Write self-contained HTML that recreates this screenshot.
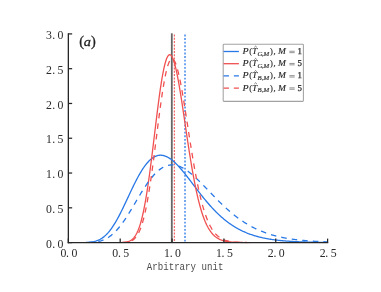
<!DOCTYPE html>
<html><head><meta charset="utf-8"><title>plot</title>
<style>
html,body{margin:0;padding:0;background:#fff;}
body{width:381px;height:292px;position:relative;overflow:hidden;font-family:"Liberation Serif",serif;}
</style></head><body>
<svg width="381" height="292" viewBox="0 0 381 292" style="position:absolute;left:0;top:0;will-change:transform;font-family:'Liberation Serif',serif">
<line x1="171.80" y1="33.30" x2="171.80" y2="242.60" stroke="#666" stroke-width="1.8"/>
<line x1="174.41" y1="34.50" x2="174.41" y2="242.60" stroke="#f36a6a" stroke-width="1.25" stroke-dasharray="2.0 1.3"/>
<line x1="185.01" y1="34.50" x2="185.01" y2="242.60" stroke="#5a98ee" stroke-width="1.7" stroke-dasharray="1.9 1.7"/>
<clipPath id="c"><rect x="68.35" y="31.90" width="259.85" height="211.30"/></clipPath>
<g clip-path="url(#c)" fill="none" stroke-linejoin="round">
<path d="M85.89,242.50 L86.54,242.48 L87.19,242.45 L87.84,242.41 L88.49,242.36 L89.14,242.31 L89.79,242.25 L90.44,242.18 L91.09,242.10 L91.74,242.01 L92.39,241.91 L93.04,241.79 L93.69,241.66 L94.34,241.51 L94.99,241.34 L95.64,241.16 L96.29,240.96 L96.94,240.73 L97.59,240.49 L98.24,240.22 L98.89,239.93 L99.54,239.61 L100.19,239.27 L100.84,238.90 L101.49,238.50 L102.14,238.08 L102.79,237.62 L103.44,237.14 L104.09,236.62 L104.74,236.07 L105.39,235.49 L106.04,234.88 L106.69,234.23 L107.33,233.55 L107.98,232.84 L108.63,232.09 L109.28,231.31 L109.93,230.50 L110.58,229.65 L111.23,228.77 L111.88,227.86 L112.53,226.91 L113.18,225.94 L113.83,224.93 L114.48,223.89 L115.13,222.82 L115.78,221.73 L116.43,220.60 L117.08,219.45 L117.73,218.28 L118.38,217.07 L119.03,215.85 L119.68,214.60 L120.33,213.34 L120.98,212.05 L121.63,210.75 L122.28,209.43 L122.93,208.10 L123.58,206.75 L124.23,205.39 L124.88,204.03 L125.53,202.65 L126.18,201.27 L126.83,199.88 L127.48,198.49 L128.13,197.10 L128.78,195.71 L129.43,194.32 L130.08,192.94 L130.73,191.56 L131.38,190.19 L132.03,188.83 L132.68,187.48 L133.32,186.14 L133.97,184.81 L134.62,183.50 L135.27,182.21 L135.92,180.93 L136.57,179.67 L137.22,178.44 L137.87,177.23 L138.52,176.04 L139.17,174.87 L139.82,173.73 L140.47,172.62 L141.12,171.54 L141.77,170.49 L142.42,169.46 L143.07,168.47 L143.72,167.51 L144.37,166.58 L145.02,165.69 L145.67,164.83 L146.32,164.00 L146.97,163.21 L147.62,162.46 L148.27,161.74 L148.92,161.06 L149.57,160.41 L150.22,159.81 L150.87,159.24 L151.52,158.71 L152.17,158.21 L152.82,157.76 L153.47,157.34 L154.12,156.96 L154.77,156.62 L155.42,156.31 L156.07,156.05 L156.72,155.82 L157.37,155.62 L158.02,155.47 L158.67,155.35 L159.31,155.27 L159.96,155.22 L160.61,155.21 L161.26,155.23 L161.91,155.28 L162.56,155.37 L163.21,155.50 L163.86,155.65 L164.51,155.84 L165.16,156.06 L165.81,156.30 L166.46,156.58 L167.11,156.89 L167.76,157.23 L168.41,157.59 L169.06,157.98 L169.71,158.40 L170.36,158.84 L171.01,159.31 L171.66,159.80 L172.31,160.32 L172.96,160.85 L173.61,161.41 L174.26,161.99 L174.91,162.59 L175.56,163.21 L176.21,163.85 L176.86,164.50 L177.51,165.17 L178.16,165.86 L178.81,166.56 L179.46,167.28 L180.11,168.01 L180.76,168.75 L181.41,169.51 L182.06,170.27 L182.71,171.05 L183.36,171.84 L184.01,172.63 L184.66,173.44 L185.30,174.25 L185.95,175.07 L186.60,175.90 L187.25,176.73 L187.90,177.57 L188.55,178.41 L189.20,179.26 L189.85,180.10 L190.50,180.96 L191.15,181.81 L191.80,182.67 L192.45,183.52 L193.10,184.38 L193.75,185.24 L194.40,186.09 L195.05,186.95 L195.70,187.80 L196.35,188.66 L197.00,189.51 L197.65,190.35 L198.30,191.20 L198.95,192.04 L199.60,192.88 L200.25,193.71 L200.90,194.54 L201.55,195.36 L202.20,196.18 L202.85,196.99 L203.50,197.80 L204.15,198.60 L204.80,199.39 L205.45,200.18 L206.10,200.96 L206.75,201.73 L207.40,202.50 L208.05,203.25 L208.70,204.01 L209.35,204.75 L210.00,205.48 L210.65,206.21 L211.29,206.93 L211.94,207.64 L212.59,208.34 L213.24,209.03 L213.89,209.72 L214.54,210.39 L215.19,211.06 L215.84,211.72 L216.49,212.37 L217.14,213.01 L217.79,213.64 L218.44,214.26 L219.09,214.87 L219.74,215.47 L220.39,216.07 L221.04,216.65 L221.69,217.23 L222.34,217.79 L222.99,218.35 L223.64,218.90 L224.29,219.44 L224.94,219.97 L225.59,220.49 L226.24,221.00 L226.89,221.50 L227.54,221.99 L228.19,222.48 L228.84,222.95 L229.49,223.42 L230.14,223.88 L230.79,224.33 L231.44,224.77 L232.09,225.20 L232.74,225.63 L233.39,226.04 L234.04,226.45 L234.69,226.85 L235.34,227.24 L235.99,227.63 L236.64,228.00 L237.28,228.37 L237.93,228.73 L238.58,229.09 L239.23,229.43 L239.88,229.77 L240.53,230.10 L241.18,230.43 L241.83,230.74 L242.48,231.05 L243.13,231.36 L243.78,231.65 L244.43,231.94 L245.08,232.22 L245.73,232.50 L246.38,232.77 L247.03,233.04 L247.68,233.29 L248.33,233.55 L248.98,233.79 L249.63,234.03 L250.28,234.27 L250.93,234.50 L251.58,234.72 L252.23,234.94 L252.88,235.15 L253.53,235.36 L254.18,235.56 L254.83,235.76 L255.48,235.95 L256.13,236.14 L256.78,236.32 L257.43,236.50 L258.08,236.67 L258.73,236.84 L259.38,237.01 L260.03,237.17 L260.68,237.33 L261.33,237.48 L261.98,237.63 L262.63,237.77 L263.27,237.92 L263.92,238.05 L264.57,238.19 L265.22,238.32 L265.87,238.44 L266.52,238.57 L267.17,238.69 L267.82,238.80 L268.47,238.92 L269.12,239.03 L269.77,239.13 L270.42,239.24 L271.07,239.34 L271.72,239.44 L272.37,239.54 L273.02,239.63 L273.67,239.72 L274.32,239.81 L274.97,239.89 L275.62,239.98 L276.27,240.06 L276.92,240.14 L277.57,240.21 L278.22,240.29 L278.87,240.36 L279.52,240.43 L280.17,240.50 L280.82,240.56 L281.47,240.63 L282.12,240.69 L282.77,240.75 L283.42,240.81 L284.07,240.87 L284.72,240.92 L285.37,240.97 L286.02,241.03 L286.67,241.08 L287.32,241.13 L287.97,241.17 L288.62,241.22 L289.26,241.26 L289.91,241.31 L290.56,241.35 L291.21,241.39 L291.86,241.43 L292.51,241.47 L293.16,241.50 L293.81,241.54 L294.46,241.57 L295.11,241.61 L295.76,241.64 L296.41,241.67 L297.06,241.70 L297.71,241.73 L298.36,241.76 L299.01,241.79 L299.66,241.82 L300.31,241.84 L300.96,241.87 L301.61,241.89 L302.26,241.92 L302.91,241.94 L303.56,241.96 L304.21,241.98 L304.86,242.00 L305.51,242.02 L306.16,242.04 L306.81,242.06 L307.46,242.08 L308.11,242.10 L308.76,242.12 L309.41,242.13 L310.06,242.15 L310.71,242.16 L311.36,242.18 L312.01,242.19 L312.66,242.21 L313.31,242.22 L313.96,242.23 L314.61,242.25 L315.25,242.26 L315.90,242.27 L316.55,242.28 L317.20,242.29 L317.85,242.30 L318.50,242.31 L319.15,242.32 L319.80,242.33 L320.45,242.34 L321.10,242.35 L321.75,242.36 L322.40,242.37 L323.05,242.38 L323.70,242.39 L324.35,242.39 L325.00,242.40 L325.65,242.41 L326.30,242.41 L326.95,242.42 L327.60,242.43" stroke="#2878e6" stroke-width="1.3"/>
<path d="M121.63,242.49 L122.28,242.46 L122.93,242.42 L123.58,242.37 L124.23,242.31 L124.88,242.23 L125.53,242.14 L126.18,242.03 L126.83,241.90 L127.48,241.74 L128.13,241.55 L128.78,241.33 L129.43,241.07 L130.08,240.76 L130.73,240.39 L131.38,239.98 L132.03,239.49 L132.68,238.93 L133.32,238.30 L133.97,237.57 L134.62,236.75 L135.27,235.82 L135.92,234.78 L136.57,233.61 L137.22,232.31 L137.87,230.86 L138.52,229.27 L139.17,227.52 L139.82,225.60 L140.47,223.50 L141.12,221.22 L141.77,218.76 L142.42,216.10 L143.07,213.24 L143.72,210.19 L144.37,206.93 L145.02,203.47 L145.67,199.82 L146.32,195.96 L146.97,191.92 L147.62,187.69 L148.27,183.28 L148.92,178.70 L149.57,173.97 L150.22,169.09 L150.87,164.09 L151.52,158.97 L152.17,153.76 L152.82,148.47 L153.47,143.12 L154.12,137.75 L154.77,132.36 L155.42,126.98 L156.07,121.64 L156.72,116.35 L157.37,111.15 L158.02,106.05 L158.67,101.08 L159.31,96.26 L159.96,91.63 L160.61,87.18 L161.26,82.96 L161.91,78.97 L162.56,75.24 L163.21,71.78 L163.86,68.61 L164.51,65.74 L165.16,63.19 L165.81,60.96 L166.46,59.06 L167.11,57.50 L167.76,56.28 L168.41,55.40 L169.06,54.87 L169.71,54.68 L170.36,54.83 L171.01,55.32 L171.66,56.13 L172.31,57.26 L172.96,58.70 L173.61,60.44 L174.26,62.47 L174.91,64.77 L175.56,67.32 L176.21,70.12 L176.86,73.15 L177.51,76.38 L178.16,79.81 L178.81,83.41 L179.46,87.17 L180.11,91.06 L180.76,95.08 L181.41,99.21 L182.06,103.42 L182.71,107.70 L183.36,112.03 L184.01,116.41 L184.66,120.80 L185.30,125.21 L185.95,129.60 L186.60,133.98 L187.25,138.33 L187.90,142.64 L188.55,146.89 L189.20,151.08 L189.85,155.20 L190.50,159.23 L191.15,163.18 L191.80,167.04 L192.45,170.79 L193.10,174.45 L193.75,177.99 L194.40,181.42 L195.05,184.74 L195.70,187.94 L196.35,191.02 L197.00,193.98 L197.65,196.83 L198.30,199.55 L198.95,202.16 L199.60,204.65 L200.25,207.03 L200.90,209.29 L201.55,211.44 L202.20,213.49 L202.85,215.43 L203.50,217.26 L204.15,219.00 L204.80,220.63 L205.45,222.18 L206.10,223.63 L206.75,225.00 L207.40,226.29 L208.05,227.49 L208.70,228.62 L209.35,229.68 L210.00,230.67 L210.65,231.59 L211.29,232.46 L211.94,233.26 L212.59,234.01 L213.24,234.70 L213.89,235.34 L214.54,235.94 L215.19,236.50 L215.84,237.01 L216.49,237.48 L217.14,237.92 L217.79,238.32 L218.44,238.70 L219.09,239.04 L219.74,239.35 L220.39,239.64 L221.04,239.91 L221.69,240.15 L222.34,240.38 L222.99,240.58 L223.64,240.77 L224.29,240.94 L224.94,241.10 L225.59,241.24 L226.24,241.37 L226.89,241.49 L227.54,241.60 L228.19,241.69 L228.84,241.78 L229.49,241.86 L230.14,241.94 L230.79,242.00 L231.44,242.06 L232.09,242.12 L232.74,242.17 L233.39,242.21 L234.04,242.25 L234.69,242.29 L235.34,242.32 L235.99,242.35 L236.64,242.38 L237.28,242.40 L237.93,242.42 L238.58,242.44 L239.23,242.46 L239.88,242.47 L240.53,242.49 L241.18,242.50 L241.83,242.51 L242.48,242.52 L243.13,242.53 L243.78,242.54 L244.43,242.54 L245.08,242.55 L245.73,242.56 L246.38,242.56 L247.03,242.57 L247.68,242.57 L248.33,242.57" stroke="#f05050" stroke-width="1.3"/>
<path d="M88.49,242.50 L89.14,242.48 L89.79,242.45 L90.44,242.42 L91.09,242.39 L91.74,242.34 L92.39,242.30 L93.04,242.24 L93.69,242.18 L94.34,242.11 L94.99,242.04 L95.64,241.95 L96.29,241.86 L96.94,241.75 L97.59,241.63 L98.24,241.50 L98.89,241.36 L99.54,241.20 L100.19,241.03 L100.84,240.85 L101.49,240.65 L102.14,240.43 L102.79,240.20 L103.44,239.95 L104.09,239.68 L104.74,239.39 L105.39,239.08 L106.04,238.75 L106.69,238.40 L107.33,238.03 L107.98,237.64 L108.63,237.23 L109.28,236.80 L109.93,236.34 L110.58,235.86 L111.23,235.36 L111.88,234.83 L112.53,234.28 L113.18,233.70 L113.83,233.11 L114.48,232.49 L115.13,231.84 L115.78,231.17 L116.43,230.48 L117.08,229.77 L117.73,229.03 L118.38,228.27 L119.03,227.49 L119.68,226.69 L120.33,225.87 L120.98,225.02 L121.63,224.16 L122.28,223.27 L122.93,222.37 L123.58,221.45 L124.23,220.51 L124.88,219.55 L125.53,218.58 L126.18,217.59 L126.83,216.59 L127.48,215.57 L128.13,214.55 L128.78,213.51 L129.43,212.46 L130.08,211.40 L130.73,210.33 L131.38,209.26 L132.03,208.18 L132.68,207.09 L133.32,206.00 L133.97,204.90 L134.62,203.80 L135.27,202.71 L135.92,201.61 L136.57,200.51 L137.22,199.41 L137.87,198.32 L138.52,197.23 L139.17,196.15 L139.82,195.07 L140.47,194.00 L141.12,192.94 L141.77,191.88 L142.42,190.84 L143.07,189.81 L143.72,188.79 L144.37,187.78 L145.02,186.79 L145.67,185.81 L146.32,184.85 L146.97,183.90 L147.62,182.97 L148.27,182.06 L148.92,181.16 L149.57,180.29 L150.22,179.43 L150.87,178.60 L151.52,177.79 L152.17,177.00 L152.82,176.23 L153.47,175.48 L154.12,174.76 L154.77,174.06 L155.42,173.39 L156.07,172.73 L156.72,172.11 L157.37,171.51 L158.02,170.93 L158.67,170.38 L159.31,169.86 L159.96,169.36 L160.61,168.89 L161.26,168.45 L161.91,168.03 L162.56,167.64 L163.21,167.27 L163.86,166.93 L164.51,166.62 L165.16,166.34 L165.81,166.08 L166.46,165.85 L167.11,165.64 L167.76,165.46 L168.41,165.31 L169.06,165.18 L169.71,165.08 L170.36,165.00 L171.01,164.95 L171.66,164.92 L172.31,164.92 L172.96,164.94 L173.61,164.98 L174.26,165.05 L174.91,165.15 L175.56,165.26 L176.21,165.40 L176.86,165.56 L177.51,165.74 L178.16,165.95 L178.81,166.17 L179.46,166.41 L180.11,166.68 L180.76,166.96 L181.41,167.27 L182.06,167.59 L182.71,167.93 L183.36,168.29 L184.01,168.66 L184.66,169.05 L185.30,169.46 L185.95,169.88 L186.60,170.32 L187.25,170.77 L187.90,171.24 L188.55,171.72 L189.20,172.22 L189.85,172.72 L190.50,173.24 L191.15,173.77 L191.80,174.32 L192.45,174.87 L193.10,175.43 L193.75,176.01 L194.40,176.59 L195.05,177.18 L195.70,177.78 L196.35,178.39 L197.00,179.00 L197.65,179.62 L198.30,180.25 L198.95,180.88 L199.60,181.52 L200.25,182.17 L200.90,182.82 L201.55,183.47 L202.20,184.13 L202.85,184.79 L203.50,185.46 L204.15,186.13 L204.80,186.80 L205.45,187.47 L206.10,188.14 L206.75,188.82 L207.40,189.49 L208.05,190.17 L208.70,190.85 L209.35,191.53 L210.00,192.20 L210.65,192.88 L211.29,193.55 L211.94,194.23 L212.59,194.90 L213.24,195.57 L213.89,196.24 L214.54,196.91 L215.19,197.57 L215.84,198.24 L216.49,198.89 L217.14,199.55 L217.79,200.20 L218.44,200.85 L219.09,201.50 L219.74,202.14 L220.39,202.77 L221.04,203.41 L221.69,204.03 L222.34,204.66 L222.99,205.28 L223.64,205.89 L224.29,206.50 L224.94,207.10 L225.59,207.70 L226.24,208.29 L226.89,208.88 L227.54,209.46 L228.19,210.04 L228.84,210.61 L229.49,211.17 L230.14,211.73 L230.79,212.28 L231.44,212.83 L232.09,213.37 L232.74,213.91 L233.39,214.43 L234.04,214.96 L234.69,215.47 L235.34,215.98 L235.99,216.48 L236.64,216.98 L237.28,217.47 L237.93,217.95 L238.58,218.43 L239.23,218.90 L239.88,219.36 L240.53,219.82 L241.18,220.27 L241.83,220.71 L242.48,221.15 L243.13,221.58 L243.78,222.01 L244.43,222.43 L245.08,222.84 L245.73,223.25 L246.38,223.65 L247.03,224.04 L247.68,224.43 L248.33,224.81 L248.98,225.18 L249.63,225.55 L250.28,225.91 L250.93,226.27 L251.58,226.62 L252.23,226.97 L252.88,227.31 L253.53,227.64 L254.18,227.97 L254.83,228.29 L255.48,228.60 L256.13,228.91 L256.78,229.22 L257.43,229.52 L258.08,229.81 L258.73,230.10 L259.38,230.38 L260.03,230.66 L260.68,230.93 L261.33,231.20 L261.98,231.46 L262.63,231.72 L263.27,231.97 L263.92,232.21 L264.57,232.46 L265.22,232.69 L265.87,232.93 L266.52,233.15 L267.17,233.38 L267.82,233.60 L268.47,233.81 L269.12,234.02 L269.77,234.23 L270.42,234.43 L271.07,234.63 L271.72,234.82 L272.37,235.01 L273.02,235.19 L273.67,235.37 L274.32,235.55 L274.97,235.73 L275.62,235.90 L276.27,236.06 L276.92,236.22 L277.57,236.38 L278.22,236.54 L278.87,236.69 L279.52,236.84 L280.17,236.98 L280.82,237.13 L281.47,237.26 L282.12,237.40 L282.77,237.53 L283.42,237.66 L284.07,237.79 L284.72,237.91 L285.37,238.03 L286.02,238.15 L286.67,238.27 L287.32,238.38 L287.97,238.49 L288.62,238.60 L289.26,238.70 L289.91,238.81 L290.56,238.91 L291.21,239.00 L291.86,239.10 L292.51,239.19 L293.16,239.28 L293.81,239.37 L294.46,239.46 L295.11,239.54 L295.76,239.62 L296.41,239.70 L297.06,239.78 L297.71,239.86 L298.36,239.93 L299.01,240.00 L299.66,240.08 L300.31,240.14 L300.96,240.21 L301.61,240.28 L302.26,240.34 L302.91,240.40 L303.56,240.46 L304.21,240.52 L304.86,240.58 L305.51,240.64 L306.16,240.69 L306.81,240.74 L307.46,240.80 L308.11,240.85 L308.76,240.90 L309.41,240.94 L310.06,240.99 L310.71,241.04 L311.36,241.08 L312.01,241.12 L312.66,241.17 L313.31,241.21 L313.96,241.25 L314.61,241.28 L315.25,241.32 L315.90,241.36 L316.55,241.39 L317.20,241.43 L317.85,241.46 L318.50,241.50 L319.15,241.53 L319.80,241.56 L320.45,241.59 L321.10,241.62 L321.75,241.65 L322.40,241.68 L323.05,241.70 L323.70,241.73 L324.35,241.75 L325.00,241.78 L325.65,241.80 L326.30,241.83 L326.95,241.85 L327.60,241.87" stroke="#2878e6" stroke-width="1.3" stroke-dasharray="5.5 5.1" stroke-dashoffset="0.74"/>
<path d="M122.93,242.49 L123.58,242.46 L124.23,242.42 L124.88,242.37 L125.53,242.31 L126.18,242.24 L126.83,242.15 L127.48,242.05 L128.13,241.92 L128.78,241.77 L129.43,241.59 L130.08,241.38 L130.73,241.14 L131.38,240.85 L132.03,240.51 L132.68,240.12 L133.32,239.67 L133.97,239.16 L134.62,238.57 L135.27,237.90 L135.92,237.14 L136.57,236.29 L137.22,235.33 L137.87,234.25 L138.52,233.06 L139.17,231.74 L139.82,230.28 L140.47,228.67 L141.12,226.91 L141.77,224.99 L142.42,222.91 L143.07,220.65 L143.72,218.21 L144.37,215.59 L145.02,212.79 L145.67,209.80 L146.32,206.62 L146.97,203.25 L147.62,199.70 L148.27,195.96 L148.92,192.05 L149.57,187.96 L150.22,183.71 L150.87,179.31 L151.52,174.76 L152.17,170.08 L152.82,165.28 L153.47,160.38 L154.12,155.39 L154.77,150.33 L155.42,145.22 L156.07,140.08 L156.72,134.92 L157.37,129.78 L158.02,124.67 L158.67,119.61 L159.31,114.63 L159.96,109.74 L160.61,104.97 L161.26,100.34 L161.91,95.87 L162.56,91.58 L163.21,87.49 L163.86,83.62 L164.51,79.99 L165.16,76.60 L165.81,73.48 L166.46,70.64 L167.11,68.08 L167.76,65.83 L168.41,63.88 L169.06,62.25 L169.71,60.93 L170.36,59.94 L171.01,59.26 L171.66,58.91 L172.31,58.88 L172.96,59.16 L173.61,59.76 L174.26,60.66 L174.91,61.85 L175.56,63.33 L176.21,65.08 L176.86,67.10 L177.51,69.36 L178.16,71.87 L178.81,74.59 L179.46,77.53 L180.11,80.66 L180.76,83.96 L181.41,87.43 L182.06,91.04 L182.71,94.77 L183.36,98.63 L184.01,102.57 L184.66,106.60 L185.30,110.70 L185.95,114.84 L186.60,119.02 L187.25,123.22 L187.90,127.43 L188.55,131.64 L189.20,135.83 L189.85,139.99 L190.50,144.11 L191.15,148.19 L191.80,152.21 L192.45,156.16 L193.10,160.04 L193.75,163.84 L194.40,167.56 L195.05,171.18 L195.70,174.70 L196.35,178.13 L197.00,181.45 L197.65,184.67 L198.30,187.77 L198.95,190.77 L199.60,193.66 L200.25,196.44 L200.90,199.10 L201.55,201.66 L202.20,204.10 L202.85,206.44 L203.50,208.67 L204.15,210.79 L204.80,212.81 L205.45,214.74 L206.10,216.56 L206.75,218.29 L207.40,219.92 L208.05,221.47 L208.70,222.92 L209.35,224.30 L210.00,225.59 L210.65,226.81 L211.29,227.96 L211.94,229.03 L212.59,230.04 L213.24,230.98 L213.89,231.86 L214.54,232.68 L215.19,233.45 L215.84,234.17 L216.49,234.83 L217.14,235.45 L217.79,236.03 L218.44,236.56 L219.09,237.06 L219.74,237.52 L220.39,237.94 L221.04,238.33 L221.69,238.70 L222.34,239.03 L222.99,239.34 L223.64,239.62 L224.29,239.89 L224.94,240.13 L225.59,240.35 L226.24,240.55 L226.89,240.73 L227.54,240.91 L228.19,241.06 L228.84,241.20 L229.49,241.33 L230.14,241.45 L230.79,241.56 L231.44,241.66 L232.09,241.75 L232.74,241.83 L233.39,241.91 L234.04,241.97 L234.69,242.04 L235.34,242.09 L235.99,242.14 L236.64,242.19 L237.28,242.23 L237.93,242.27 L238.58,242.30 L239.23,242.33 L239.88,242.36 L240.53,242.38 L241.18,242.41 L241.83,242.43 L242.48,242.45 L243.13,242.46 L243.78,242.48 L244.43,242.49 L245.08,242.50 L245.73,242.51 L246.38,242.52 L247.03,242.53 L247.68,242.54 L248.33,242.54 L248.98,242.55 L249.63,242.56 L250.28,242.56 L250.93,242.57 L251.58,242.57 L252.23,242.57" stroke="#f05050" stroke-width="1.3" stroke-dasharray="5.5 5.1" stroke-dashoffset="1.58"/>
</g>
<g stroke="#262626" stroke-width="1.3" fill="none" stroke-linecap="square">
<line x1="68.35" y1="33.90" x2="68.35" y2="242.60"/>
<line x1="68.35" y1="242.60" x2="327.60" y2="242.60"/>
</g>
<g stroke="#262626" stroke-width="1.25" fill="none">
<line x1="68.35" y1="242.60" x2="68.35" y2="238.60"/>
<line x1="120.20" y1="242.60" x2="120.20" y2="238.60"/>
<line x1="172.05" y1="242.60" x2="172.05" y2="238.60"/>
<line x1="223.90" y1="242.60" x2="223.90" y2="238.60"/>
<line x1="275.75" y1="242.60" x2="275.75" y2="238.60"/>
<line x1="327.60" y1="242.60" x2="327.60" y2="238.60"/>
<line x1="68.35" y1="242.60" x2="72.15" y2="242.60"/>
<line x1="68.35" y1="207.82" x2="72.15" y2="207.82"/>
<line x1="68.35" y1="173.03" x2="72.15" y2="173.03"/>
<line x1="68.35" y1="138.25" x2="72.15" y2="138.25"/>
<line x1="68.35" y1="103.47" x2="72.15" y2="103.47"/>
<line x1="68.35" y1="68.68" x2="72.15" y2="68.68"/>
<line x1="68.35" y1="33.90" x2="72.15" y2="33.90"/>
</g>
<text x="63.35" y="257.40" font-size="11.8" text-anchor="middle" fill="#2b2b2b">0</text>
<text x="67.55" y="257.40" font-size="11.8" text-anchor="middle" fill="#2b2b2b">.</text>
<text x="74.35" y="257.40" font-size="11.8" text-anchor="middle" fill="#2b2b2b">0</text>
<text x="115.20" y="257.40" font-size="11.8" text-anchor="middle" fill="#2b2b2b">0</text>
<text x="119.40" y="257.40" font-size="11.8" text-anchor="middle" fill="#2b2b2b">.</text>
<text x="126.20" y="257.40" font-size="11.8" text-anchor="middle" fill="#2b2b2b">5</text>
<text x="167.05" y="257.40" font-size="11.8" text-anchor="middle" fill="#2b2b2b">1</text>
<text x="171.25" y="257.40" font-size="11.8" text-anchor="middle" fill="#2b2b2b">.</text>
<text x="178.05" y="257.40" font-size="11.8" text-anchor="middle" fill="#2b2b2b">0</text>
<text x="218.90" y="257.40" font-size="11.8" text-anchor="middle" fill="#2b2b2b">1</text>
<text x="223.10" y="257.40" font-size="11.8" text-anchor="middle" fill="#2b2b2b">.</text>
<text x="229.90" y="257.40" font-size="11.8" text-anchor="middle" fill="#2b2b2b">5</text>
<text x="270.75" y="257.40" font-size="11.8" text-anchor="middle" fill="#2b2b2b">2</text>
<text x="274.95" y="257.40" font-size="11.8" text-anchor="middle" fill="#2b2b2b">.</text>
<text x="281.75" y="257.40" font-size="11.8" text-anchor="middle" fill="#2b2b2b">0</text>
<text x="322.60" y="257.40" font-size="11.8" text-anchor="middle" fill="#2b2b2b">2</text>
<text x="326.80" y="257.40" font-size="11.8" text-anchor="middle" fill="#2b2b2b">.</text>
<text x="333.60" y="257.40" font-size="11.8" text-anchor="middle" fill="#2b2b2b">5</text>
<text x="49.00" y="247.70" font-size="11.8" text-anchor="middle" fill="#2b2b2b">0</text>
<text x="53.70" y="247.70" font-size="11.8" text-anchor="middle" fill="#2b2b2b">.</text>
<text x="60.55" y="247.70" font-size="11.8" text-anchor="middle" fill="#2b2b2b">0</text>
<text x="49.00" y="212.92" font-size="11.8" text-anchor="middle" fill="#2b2b2b">0</text>
<text x="53.70" y="212.92" font-size="11.8" text-anchor="middle" fill="#2b2b2b">.</text>
<text x="60.55" y="212.92" font-size="11.8" text-anchor="middle" fill="#2b2b2b">5</text>
<text x="49.00" y="178.13" font-size="11.8" text-anchor="middle" fill="#2b2b2b">1</text>
<text x="53.70" y="178.13" font-size="11.8" text-anchor="middle" fill="#2b2b2b">.</text>
<text x="60.55" y="178.13" font-size="11.8" text-anchor="middle" fill="#2b2b2b">0</text>
<text x="49.00" y="143.35" font-size="11.8" text-anchor="middle" fill="#2b2b2b">1</text>
<text x="53.70" y="143.35" font-size="11.8" text-anchor="middle" fill="#2b2b2b">.</text>
<text x="60.55" y="143.35" font-size="11.8" text-anchor="middle" fill="#2b2b2b">5</text>
<text x="49.00" y="108.57" font-size="11.8" text-anchor="middle" fill="#2b2b2b">2</text>
<text x="53.70" y="108.57" font-size="11.8" text-anchor="middle" fill="#2b2b2b">.</text>
<text x="60.55" y="108.57" font-size="11.8" text-anchor="middle" fill="#2b2b2b">0</text>
<text x="49.00" y="73.78" font-size="11.8" text-anchor="middle" fill="#2b2b2b">2</text>
<text x="53.70" y="73.78" font-size="11.8" text-anchor="middle" fill="#2b2b2b">.</text>
<text x="60.55" y="73.78" font-size="11.8" text-anchor="middle" fill="#2b2b2b">5</text>
<text x="49.00" y="39.00" font-size="11.8" text-anchor="middle" fill="#2b2b2b">3</text>
<text x="53.70" y="39.00" font-size="11.8" text-anchor="middle" fill="#2b2b2b">.</text>
<text x="60.55" y="39.00" font-size="11.8" text-anchor="middle" fill="#2b2b2b">0</text>
<text transform="translate(146.8,269.7) scale(1,1.1)" font-family="Liberation Mono" font-size="9.12" fill="#4a4a4a">Arbitrary unit</text>
<text x="81.70" y="45.50" font-size="14.4" text-anchor="middle" fill="#222" stroke="#222" stroke-width="0.3">(</text>
<text transform="translate(83.7,45.9) scale(1.07,1)" font-size="13.4" font-style="italic" fill="#222" stroke="#222" stroke-width="0.3">a</text>
<text x="93.30" y="45.50" font-size="14.4" text-anchor="middle" fill="#222" stroke="#222" stroke-width="0.3">)</text>
<rect x="223.2" y="44.3" width="80.2" height="57.1" rx="0.8" fill="#fff" stroke="#a2a2a2" stroke-width="1.05"/>
<line x1="223.56" y1="51.50" x2="238.9" y2="51.50" stroke="#2878e6" stroke-width="1.3"/>
<text transform="translate(242.40,54.00) scale(1.16,1)" font-size="8.6" font-style="italic" fill="#1e1e1e" stroke="#1e1e1e" stroke-width="0.12">P</text>
<text transform="translate(249.20,54.00) scale(1,1)" font-size="8.6" fill="#1e1e1e" stroke="#1e1e1e" stroke-width="0.12">(</text>
<text transform="translate(252.00,54.00) scale(1.1,1)" font-size="8.6" font-style="italic" fill="#1e1e1e" stroke="#1e1e1e" stroke-width="0.12">T</text>
<path d="M254.30,47.40 l1.3,-1.2 l1.3,1.2" fill="none" stroke="#2a2a2a" stroke-width="0.6"/>
<text transform="translate(257.50,55.50) scale(1.05,1)" font-size="6.5" font-style="italic" fill="#1e1e1e" stroke="#1e1e1e" stroke-width="0.12">G</text>
<text transform="translate(262.10,55.50) scale(1,1)" font-size="6.5" fill="#1e1e1e" stroke="#1e1e1e" stroke-width="0.12">,</text>
<text transform="translate(263.40,55.50) scale(1.05,1)" font-size="6.5" font-style="italic" fill="#1e1e1e" stroke="#1e1e1e" stroke-width="0.12">M</text>
<text transform="translate(270.00,54.00) scale(1,1)" font-size="8.6" fill="#1e1e1e" stroke="#1e1e1e" stroke-width="0.12">)</text>
<text transform="translate(273.60,54.00) scale(1,1)" font-size="8.6" fill="#1e1e1e" stroke="#1e1e1e" stroke-width="0.12">,</text>
<text transform="translate(277.90,54.00) scale(1.1,1)" font-size="8.6" font-style="italic" fill="#1e1e1e" stroke="#1e1e1e" stroke-width="0.12">M</text>
<path d="M289.4,51.25 h5.3 M289.4,52.65 h5.3" fill="none" stroke="#3a3a3a" stroke-width="0.55"/>
<text transform="translate(297.60,54.00) scale(1,1)" font-size="8.8" fill="#1e1e1e" stroke="#1e1e1e" stroke-width="0.25">1</text>
<line x1="223.56" y1="63.70" x2="238.9" y2="63.70" stroke="#f05050" stroke-width="1.3"/>
<text transform="translate(242.40,66.20) scale(1.16,1)" font-size="8.6" font-style="italic" fill="#1e1e1e" stroke="#1e1e1e" stroke-width="0.12">P</text>
<text transform="translate(249.20,66.20) scale(1,1)" font-size="8.6" fill="#1e1e1e" stroke="#1e1e1e" stroke-width="0.12">(</text>
<text transform="translate(252.00,66.20) scale(1.1,1)" font-size="8.6" font-style="italic" fill="#1e1e1e" stroke="#1e1e1e" stroke-width="0.12">T</text>
<path d="M254.30,59.60 l1.3,-1.2 l1.3,1.2" fill="none" stroke="#2a2a2a" stroke-width="0.6"/>
<text transform="translate(257.50,67.70) scale(1.05,1)" font-size="6.5" font-style="italic" fill="#1e1e1e" stroke="#1e1e1e" stroke-width="0.12">G</text>
<text transform="translate(262.10,67.70) scale(1,1)" font-size="6.5" fill="#1e1e1e" stroke="#1e1e1e" stroke-width="0.12">,</text>
<text transform="translate(263.40,67.70) scale(1.05,1)" font-size="6.5" font-style="italic" fill="#1e1e1e" stroke="#1e1e1e" stroke-width="0.12">M</text>
<text transform="translate(270.00,66.20) scale(1,1)" font-size="8.6" fill="#1e1e1e" stroke="#1e1e1e" stroke-width="0.12">)</text>
<text transform="translate(273.60,66.20) scale(1,1)" font-size="8.6" fill="#1e1e1e" stroke="#1e1e1e" stroke-width="0.12">,</text>
<text transform="translate(277.90,66.20) scale(1.1,1)" font-size="8.6" font-style="italic" fill="#1e1e1e" stroke="#1e1e1e" stroke-width="0.12">M</text>
<path d="M289.4,63.45 h5.3 M289.4,64.85 h5.3" fill="none" stroke="#3a3a3a" stroke-width="0.55"/>
<text transform="translate(297.60,66.20) scale(1,1)" font-size="8.8" fill="#1e1e1e" stroke="#1e1e1e" stroke-width="0.25">5</text>
<line x1="223.56" y1="75.90" x2="238.9" y2="75.90" stroke="#2878e6" stroke-width="1.3" stroke-dasharray="5.4 4.9"/>
<text transform="translate(242.40,78.40) scale(1.16,1)" font-size="8.6" font-style="italic" fill="#1e1e1e" stroke="#1e1e1e" stroke-width="0.12">P</text>
<text transform="translate(249.20,78.40) scale(1,1)" font-size="8.6" fill="#1e1e1e" stroke="#1e1e1e" stroke-width="0.12">(</text>
<text transform="translate(252.00,78.40) scale(1.1,1)" font-size="8.6" font-style="italic" fill="#1e1e1e" stroke="#1e1e1e" stroke-width="0.12">T</text>
<path d="M254.30,71.80 l1.3,-1.2 l1.3,1.2" fill="none" stroke="#2a2a2a" stroke-width="0.6"/>
<text transform="translate(257.50,79.90) scale(1.05,1)" font-size="6.5" font-style="italic" fill="#1e1e1e" stroke="#1e1e1e" stroke-width="0.12">B</text>
<text transform="translate(262.10,79.90) scale(1,1)" font-size="6.5" fill="#1e1e1e" stroke="#1e1e1e" stroke-width="0.12">,</text>
<text transform="translate(263.40,79.90) scale(1.05,1)" font-size="6.5" font-style="italic" fill="#1e1e1e" stroke="#1e1e1e" stroke-width="0.12">M</text>
<text transform="translate(270.00,78.40) scale(1,1)" font-size="8.6" fill="#1e1e1e" stroke="#1e1e1e" stroke-width="0.12">)</text>
<text transform="translate(273.60,78.40) scale(1,1)" font-size="8.6" fill="#1e1e1e" stroke="#1e1e1e" stroke-width="0.12">,</text>
<text transform="translate(277.90,78.40) scale(1.1,1)" font-size="8.6" font-style="italic" fill="#1e1e1e" stroke="#1e1e1e" stroke-width="0.12">M</text>
<path d="M289.4,75.65 h5.3 M289.4,77.05 h5.3" fill="none" stroke="#3a3a3a" stroke-width="0.55"/>
<text transform="translate(297.60,78.40) scale(1,1)" font-size="8.8" fill="#1e1e1e" stroke="#1e1e1e" stroke-width="0.25">1</text>
<line x1="223.56" y1="88.10" x2="238.9" y2="88.10" stroke="#f05050" stroke-width="1.3" stroke-dasharray="5.4 4.9"/>
<text transform="translate(242.40,90.60) scale(1.16,1)" font-size="8.6" font-style="italic" fill="#1e1e1e" stroke="#1e1e1e" stroke-width="0.12">P</text>
<text transform="translate(249.20,90.60) scale(1,1)" font-size="8.6" fill="#1e1e1e" stroke="#1e1e1e" stroke-width="0.12">(</text>
<text transform="translate(252.00,90.60) scale(1.1,1)" font-size="8.6" font-style="italic" fill="#1e1e1e" stroke="#1e1e1e" stroke-width="0.12">T</text>
<path d="M254.30,84.00 l1.3,-1.2 l1.3,1.2" fill="none" stroke="#2a2a2a" stroke-width="0.6"/>
<text transform="translate(257.50,92.10) scale(1.05,1)" font-size="6.5" font-style="italic" fill="#1e1e1e" stroke="#1e1e1e" stroke-width="0.12">B</text>
<text transform="translate(262.10,92.10) scale(1,1)" font-size="6.5" fill="#1e1e1e" stroke="#1e1e1e" stroke-width="0.12">,</text>
<text transform="translate(263.40,92.10) scale(1.05,1)" font-size="6.5" font-style="italic" fill="#1e1e1e" stroke="#1e1e1e" stroke-width="0.12">M</text>
<text transform="translate(270.00,90.60) scale(1,1)" font-size="8.6" fill="#1e1e1e" stroke="#1e1e1e" stroke-width="0.12">)</text>
<text transform="translate(273.60,90.60) scale(1,1)" font-size="8.6" fill="#1e1e1e" stroke="#1e1e1e" stroke-width="0.12">,</text>
<text transform="translate(277.90,90.60) scale(1.1,1)" font-size="8.6" font-style="italic" fill="#1e1e1e" stroke="#1e1e1e" stroke-width="0.12">M</text>
<path d="M289.4,87.85 h5.3 M289.4,89.25 h5.3" fill="none" stroke="#3a3a3a" stroke-width="0.55"/>
<text transform="translate(297.60,90.60) scale(1,1)" font-size="8.8" fill="#1e1e1e" stroke="#1e1e1e" stroke-width="0.25">5</text>
</svg>
</body></html>
